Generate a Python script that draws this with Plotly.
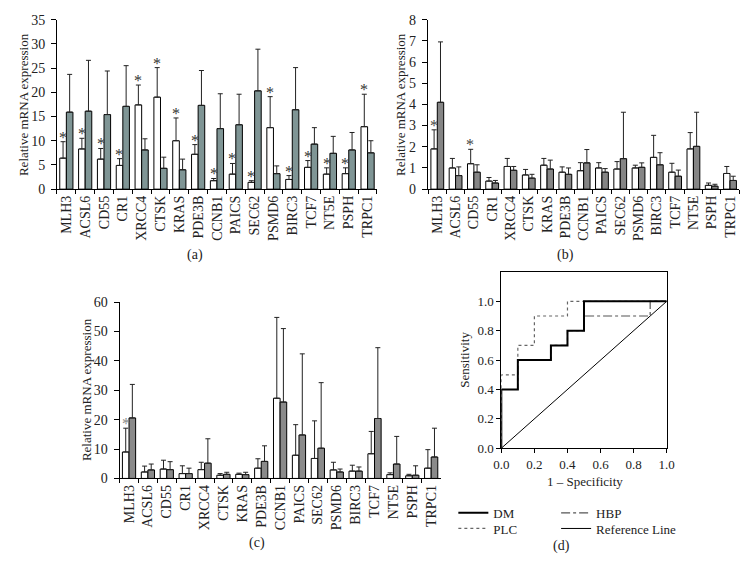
import plotly.graph_objects as go

W, H = 754, 578
genes = ["MLH3", "ACSL6", "CD55", "CR1", "XRCC4", "CTSK", "KRAS", "PDE3B", "CCNB1",
         "PAICS", "SEC62", "PSMD6", "BIRC3", "TCF7", "NT5E", "PSPH", "TRPC1"]

# Panel (a)
a_white = [6.4, 8.3, 6.2, 4.9, 17.4, 19.0, 10.0, 7.2, 1.75, 3.1, 1.4, 12.7, 2.0, 4.5, 3.1, 3.2, 12.9]
a_white_top = [9.8, 10.5, 8.4, 6.3, 21.5, 25.1, 14.7, 9.2, 2.2, 5.3, 1.75, 19.1, 2.8, 5.9, 4.4, 4.4, 19.6]
a_gray = [15.9, 16.1, 15.4, 17.1, 8.1, 4.3, 4.0, 17.3, 12.5, 13.3, 20.3, 3.2, 16.4, 9.3, 7.4, 8.1, 7.5]
a_gray_top = [23.7, 26.6, 24.4, 25.5, 10.4, 6.6, 6.2, 24.5, 19.7, 19.6, 28.9, 4.8, 25.1, 12.7, 10.9, 11.7, 10.0]
a_sig = genes[:]

# Panel (b)
b_white = [1.9, 1.0, 1.2, 0.38, 1.07, 0.67, 1.13, 0.8, 0.87, 1.0, 0.95, 1.0, 1.5, 0.8, 1.9, 0.18, 0.74]
b_white_top = [2.8, 1.45, 1.88, 0.55, 1.45, 0.93, 1.45, 1.05, 1.25, 1.25, 1.3, 1.13, 2.54, 1.22, 2.67, 0.29, 1.07]
b_gray = [4.1, 0.64, 0.8, 0.29, 0.89, 0.52, 0.95, 0.7, 1.24, 0.8, 1.44, 1.03, 1.15, 0.61, 2.02, 0.14, 0.41]
b_gray_top = [6.95, 1.05, 1.15, 0.41, 1.07, 0.7, 1.37, 1.0, 1.87, 0.97, 3.63, 1.24, 1.72, 0.9, 3.63, 0.23, 0.61]
b_sig = ["MLH3", "CD55"]

# Panel (c)
c_white = [9.0, 2.2, 3.2, 1.65, 3.0, 1.1, 1.4, 3.5, 27.3, 7.9, 6.8, 2.9, 2.5, 8.4, 1.3, 0.9, 3.5]
c_white_top = [17.1, 4.2, 6.2, 4.3, 5.5, 1.65, 1.8, 6.7, 54.8, 18.3, 19.6, 5.5, 4.5, 16.0, 1.9, 1.4, 9.8]
c_gray = [20.6, 2.9, 3.0, 1.65, 5.2, 1.4, 1.3, 5.8, 26.0, 14.8, 10.3, 2.2, 2.5, 20.4, 4.9, 1.1, 7.3]
c_gray_top = [32.0, 4.9, 5.7, 3.5, 13.5, 2.1, 2.1, 11.1, 51.0, 42.4, 32.6, 3.2, 3.9, 44.5, 14.3, 4.3, 17.1]
c_sig = ["MLH3"]

# Panel (d) ROC curves
dm_x = [0, 0, 0.1, 0.1, 0.3, 0.3, 0.4, 0.4, 0.5, 0.5, 1.0]
dm_y = [0, 0.4, 0.4, 0.6, 0.6, 0.7, 0.7, 0.8, 0.8, 1.0, 1.0]
plc_x = [0, 0, 0.1, 0.1, 0.2, 0.2, 0.4, 0.4, 1.0]
plc_y = [0, 0.5, 0.5, 0.7, 0.7, 0.9, 0.9, 1.0, 1.0]
hbp_x = [0, 0, 0.1, 0.1, 0.3, 0.3, 0.4, 0.4, 0.5, 0.5, 0.9, 0.9, 1.0]
hbp_y = [0, 0.4, 0.4, 0.6, 0.6, 0.7, 0.7, 0.8, 0.8, 0.9, 0.9, 1.0, 1.0]
ref_x = [0, 1]
ref_y = [0, 1]
roc_ticks = [0, 0.2, 0.4, 0.6, 0.8, 1.0]
roc_ticktext = ["0.0", "0.2", "0.4", "0.6", "0.8", "1.0"]

FONT = "Liberation Serif, Times New Roman, serif"
TXT = "#222222"

def px_dom(a, b):
    return [a / W, b / W]

def py_dom(top, bottom):
    return [1 - bottom / H, 1 - top / H]

fig = go.Figure()

def add_bars(xa, ya, white, white_top, gray, gray_top, gray_color, star_color, sig):
    fig.add_trace(go.Bar(
        x=genes, y=white, xaxis=xa, yaxis=ya, marker=dict(color="white", line=dict(color="black", width=1)),
        error_y=dict(type="data", symmetric=False, array=[t - v for t, v in zip(white_top, white)],
                     arrayminus=[0] * len(white), color="#222222", thickness=1, width=2.5),
        showlegend=False))
    fig.add_trace(go.Bar(
        x=genes, y=gray, xaxis=xa, yaxis=ya, marker=dict(color=gray_color, line=dict(color="black", width=1)),
        error_y=dict(type="data", symmetric=False, array=[t - v for t, v in zip(gray_top, gray)],
                     arrayminus=[0] * len(gray), color="#222222", thickness=1, width=2.5),
        showlegend=False))
    for g in sig:
        i = genes.index(g)
        fig.add_annotation(x=g, y=white_top[i], xref="x" + xa[1:], yref="y" + ya[1:],
                           text="*", showarrow=False, xshift=-3.4, yshift=-6, yanchor="bottom",
                           font=dict(family=FONT, size=16, color=star_color))

add_bars("x", "y", a_white, a_white_top, a_gray, a_gray_top, "#7f9595", "#333333", a_sig)
add_bars("x2", "y2", b_white, b_white_top, b_gray, b_gray_top, "#858585", "#444444", b_sig)
add_bars("x3", "y3", c_white, c_white_top, c_gray, c_gray_top, "#8a8a8a", "#888888", c_sig)

# ROC
fig.add_trace(go.Scatter(x=ref_x, y=ref_y, xaxis="x4", yaxis="y4", mode="lines", name="Reference Line",
                         line=dict(color="black", width=1), legend="legend4"))
fig.add_trace(go.Scatter(x=hbp_x, y=hbp_y, xaxis="x4", yaxis="y4", mode="lines", name="HBP",
                         line=dict(color="#555555", width=1.2, dash="dashdot"), legend="legend3"))
fig.add_trace(go.Scatter(x=plc_x, y=plc_y, xaxis="x4", yaxis="y4", mode="lines", name="PLC",
                         line=dict(color="#666666", width=1.2, dash="dot"), legend="legend2"))
fig.add_trace(go.Scatter(x=dm_x, y=dm_y, xaxis="x4", yaxis="y4", mode="lines", name="DM",
                         line=dict(color="black", width=2), legend="legend"))

tickfont = dict(family=FONT, size=14, color=TXT)
common_x = dict(type="category", showline=True, linecolor="black", linewidth=1, ticks="outside",
                tickson="boundaries", ticklen=4, tickcolor="black", tickangle=-90, tickfont=tickfont,
                showgrid=False, zeroline=False)
common_y = dict(showline=True, linecolor="black", linewidth=1, ticks="outside", ticklen=5, tickcolor="black",
                tickfont=tickfont, showgrid=False, zeroline=False, ticklabelstandoff=3)
roc_axis = dict(showline=True, mirror=True, linecolor="black", linewidth=1, ticks="outside", ticklen=4,
                tickcolor="black", showgrid=False, zeroline=False, tickvals=roc_ticks, ticktext=roc_ticktext,
                tickfont=dict(family=FONT, size=13, color=TXT))

def leg(x, y):
    return dict(x=x / W, y=1 - y / H, xanchor="left", yanchor="top", bgcolor="rgba(0,0,0,0)",
                font=dict(family=FONT, size=13, color=TXT), itemwidth=30)

fig.update_layout(
    width=W, height=H, margin=dict(l=0, r=0, t=0, b=0), paper_bgcolor="white", plot_bgcolor="white",
    barmode="group", bargap=0.3, bargroupgap=0,
    font=dict(family=FONT, size=13, color=TXT),
    xaxis=dict(common_x, domain=px_dom(50, 377), anchor="y"),
    yaxis=dict(common_y, domain=py_dom(13, 187), range=[0, 35], dtick=5, anchor="x"),
    xaxis2=dict(common_x, domain=px_dom(429, 747), anchor="y2"),
    yaxis2=dict(common_y, domain=py_dom(13, 187), range=[0, 8], dtick=1, anchor="x2"),
    xaxis3=dict(common_x, domain=px_dom(114, 442), anchor="y3"),
    yaxis3=dict(common_y, domain=py_dom(303, 484), range=[0, 60], dtick=10, anchor="x3"),
    xaxis4=dict(roc_axis, domain=px_dom(504, 673), anchor="y4", range=[0, 1]),
    yaxis4=dict(roc_axis, domain=py_dom(272, 453), anchor="x4", range=[0, 1.2]),
    legend=leg(455, 504),
    legend2=leg(455, 520),
    legend3=leg(560, 504),
    legend4=leg(560, 520),
)

titles = [
    ("Relative mRNA expression", 16, 100, -90),
    ("Relative mRNA expression", 401, 100, -90),
    ("Relative mRNA expression", 80, 393, -90),
    ("Sensitivity", 466, 362, -90),
    ("1 \u2013 Specificity", 589, 487, 0),
    ("(a)", 191, 255, 0),
    ("(b)", 570, 255, 0),
    ("(c)", 254, 550, 0),
    ("(d)", 566, 553, 0),
]
for txt, x, y, ang in titles:
    fig.add_annotation(text=txt, x=x / W, y=1 - y / H, xref="paper", yref="paper", showarrow=False,
                       textangle=ang, xanchor="center", yanchor="middle",
                       font=dict(family=FONT, size=14 if txt.startswith("(") else 13, color=TXT))

fig.write_html("out.html", config={"displayModeBar": False},
               post_script="document.body.style.margin='0';")
